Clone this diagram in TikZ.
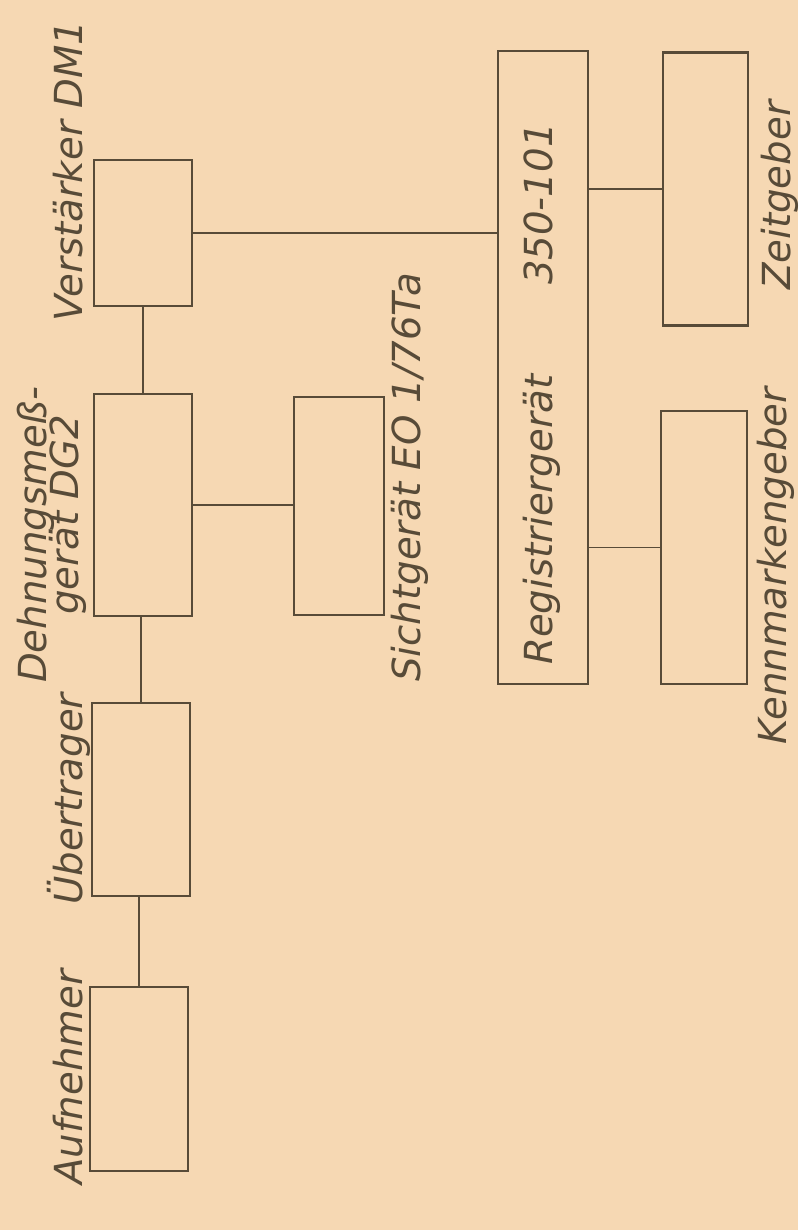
\documentclass[tikz,border=0pt]{standalone}
\usepackage{fontspec}
\setmainfont{DejaVu Sans}
\usepackage{tikz}
\usetikzlibrary{positioning,calc}
\definecolor{paper}{HTML}{F6D8B3}
\definecolor{ink}{HTML}{584B38}

\begin{document}
\begin{tikzpicture}[
    x=0.03cm, y=-0.03cm,
    unit/.style={draw=ink, line width=2.5pt, inner sep=0pt},
    wire/.style={draw=ink, line width=1.6pt},
    lbl/.style={text=ink, font=\fontsize{33}{37}\selectfont\itshape, rotate=90, anchor=base west, inner sep=0pt}
]
% --- Paper ---
\fill[paper] (0,0) rectangle (798,1230);
\useasboundingbox (0,0) rectangle (798,1230);

% --- Main chain (left column) ---
\node[unit, minimum width=98*0.3mm, minimum height=184*0.3mm] (auf)   at (139,1079) {};
\node[unit, minimum width=98*0.3mm, minimum height=193*0.3mm] (ueb)   at (141,799.5) {};
\node[unit, minimum width=98*0.3mm, minimum height=222*0.3mm] (dms)   at (143,505) {};
\node[unit, minimum width=98*0.3mm, minimum height=146*0.3mm] (vst)   at (143,233) {};

% --- Side units ---
\node[unit, minimum width=90*0.3mm, minimum height=218*0.3mm] (sicht) at (339,506) {};
\node[unit, minimum width=90*0.3mm, minimum height=633*0.3mm] (reg)   at (543,367.5) {};
\node[unit, minimum width=85*0.3mm, minimum height=273*0.3mm] (zeit)  at (705.5,189) {};
\node[unit, minimum width=86*0.3mm, minimum height=273*0.3mm] (kenn)  at (704,547.5) {};

% --- Wires ---
\draw[wire] (auf.north) -- (auf.north |- ueb.south);
\draw[wire] (ueb.north) -- (ueb.north |- dms.south);
\draw[wire] (dms.north) -- (dms.north |- vst.south);
\draw[wire] (dms.east) -- (dms.east -| sicht.west);
\draw[wire] (vst.east) -- (vst.east -| reg.west);
\draw[wire] (zeit.west -| reg.east) -- (zeit.west);
\draw[wire] (kenn.west -| reg.east) -- (kenn.west);

% --- Labels ---
\node[lbl] (tauf)  at (82,1185) {Aufnehmer};
\node[lbl] (tueb)  at (82,905)  {Übertrager};
\node[lbl] (tdms1) at (46,683)  {Dehnungsmeß-};
\node[lbl] (tdms2) at (78,615)  {gerät DG2};
\node[lbl] (tvst)  at (82,322)  {Verstärker DM1};
\node[lbl] (tsic)  at (420,682) {Sichtgerät EO 1/76Ta};
\node[lbl] (treg1) at (552,665) {Registriergerät};
\node[lbl] (treg2) at (552,285) {350-101};
\node[lbl] (tzeit) at (790,290) {Zeitgeber};
\node[lbl] (tkenn) at (786,745) {Kennmarkengeber};

\end{tikzpicture}
\end{document}
